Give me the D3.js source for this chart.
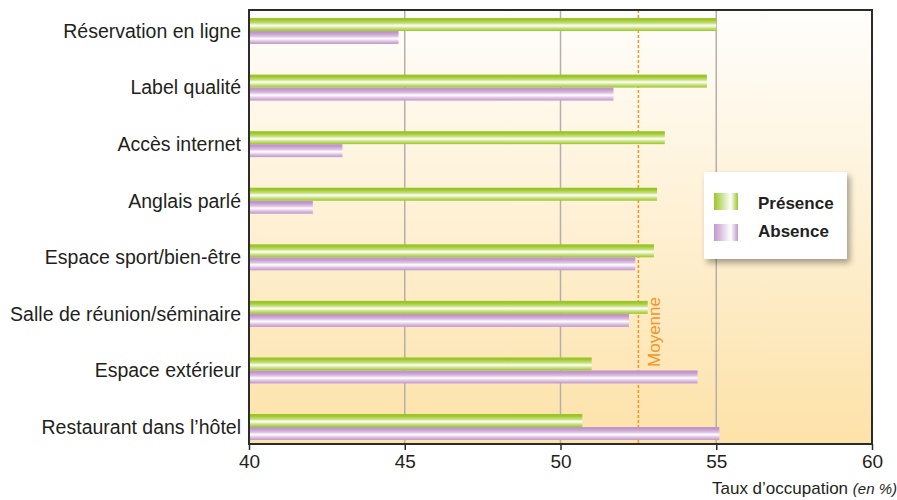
<!DOCTYPE html>
<html>
<head>
<meta charset="utf-8">
<script src="https://cdn.jsdelivr.net/npm/d3@7"></script>
<style>
  body { margin: 0; background: #fff; }
  text { font-family: "Liberation Sans", Arial, sans-serif; fill: #231f20; }
</style>
</head>
<body>
<div id="chart"></div>
<script>
var categories = [
	"Réservation en ligne",
	"Label qualité",
	"Accès internet",
	"Anglais parlé",
	"Espace sport/bien-être",
	"Salle de réunion/séminaire",
	"Espace extérieur",
	"Restaurant dans l\u2019hôtel"
];
var presence = [55.0, 54.7, 53.35, 53.1, 53.0, 52.8, 51.0, 50.7];
var absence = [44.8, 51.7, 43.0, 42.05, 52.4, 52.2, 54.4, 55.1];
var moyenne = 52.5;
var xTicks = [40, 45, 50, 55, 60];
var legendLabels = ["Présence", "Absence"];

var width = 897, height = 500;
var pLeft = 249, pRight = 872, pTop = 10, pBottom = 444;

var svg = d3.select("#chart")
	.append("svg")
	.attr("width", width)
	.attr("height", height);

var defs = svg.append("defs");

var bg = defs.append("linearGradient")
	.attr("id", "bg").attr("x1", 0).attr("y1", 0).attr("x2", 0).attr("y2", 1);
bg.append("stop").attr("offset", "0%").attr("stop-color", "#fffefc");
bg.append("stop").attr("offset", "100%").attr("stop-color", "#fde2a9");

function barGrad(id, dark, mid) {
	var g = defs.append("linearGradient")
		.attr("id", id).attr("x1", 0).attr("y1", 0).attr("x2", 0).attr("y2", 1);
	g.append("stop").attr("offset", "0%").attr("stop-color", dark);
	g.append("stop").attr("offset", "15%").attr("stop-color", dark);
	g.append("stop").attr("offset", "40%").attr("stop-color", mid);
	g.append("stop").attr("offset", "58%").attr("stop-color", "#ffffff");
	g.append("stop").attr("offset", "80%").attr("stop-color", mid);
	g.append("stop").attr("offset", "100%").attr("stop-color", dark);
}
barGrad("gGreen", "#9bc62a", "#c6e07a");
barGrad("gPurple", "#c197ca", "#dcc0e2");

function swatchGrad(id, dark) {
	var g = defs.append("linearGradient")
		.attr("id", id).attr("x1", 0).attr("y1", 0).attr("x2", 1).attr("y2", 0);
	g.append("stop").attr("offset", "0%").attr("stop-color", dark);
	g.append("stop").attr("offset", "70%").attr("stop-color", "#ffffff");
	g.append("stop").attr("offset", "100%").attr("stop-color", dark);
}
swatchGrad("sGreen", "#9bc62a");
swatchGrad("sPurple", "#c197ca");

var shadow = defs.append("filter").attr("id", "shadow")
	.attr("x", "-10%").attr("y", "-10%").attr("width", "130%").attr("height", "140%");
shadow.append("feDropShadow")
	.attr("dx", 3).attr("dy", 4).attr("stdDeviation", 3)
	.attr("flood-color", "#000").attr("flood-opacity", 0.35);

var x = d3.scaleLinear().domain([40, 60]).range([pLeft, pRight]);
var y = d3.scalePoint().domain(categories).range([31, 427]);
var barH = 13;

svg.append("rect")
	.attr("x", pLeft).attr("y", pTop)
	.attr("width", pRight - pLeft).attr("height", pBottom - pTop)
	.attr("fill", "url(#bg)");

// grid
svg.selectAll("line.grid")
	.data(xTicks.slice(1, -1))
	.enter().append("line")
	.attr("class", "grid")
	.attr("x1", function(d) { return x(d); })
	.attr("x2", function(d) { return x(d); })
	.attr("y1", pTop).attr("y2", pBottom)
	.style("stroke", "#b3b0ab")
	.style("stroke-width", 1.5);

// moyenne
svg.append("line")
	.attr("x1", x(moyenne)).attr("x2", x(moyenne))
	.attr("y1", pTop).attr("y2", pBottom)
	.style("stroke", "#f7931e")
	.style("stroke-width", 1.5)
	.style("stroke-dasharray", "3,2");

svg.append("text")
	.attr("transform", "translate(" + (x(moyenne) + 22) + ",332) rotate(-90)")
	.attr("text-anchor", "middle")
	.style("font-size", "17px")
	.style("fill", "#f7931e")
	.text("Moyenne");

// bars
svg.selectAll("rect.pres")
	.data(presence)
	.enter().append("rect")
	.attr("class", "pres")
	.attr("x", x(40))
	.attr("y", function(d, i) { return y(categories[i]) - barH; })
	.attr("width", function(d) { return x(d) - x(40); })
	.attr("height", barH)
	.attr("fill", "url(#gGreen)");

svg.selectAll("rect.abs")
	.data(absence)
	.enter().append("rect")
	.attr("class", "abs")
	.attr("x", x(40))
	.attr("y", function(d, i) { return y(categories[i]); })
	.attr("width", function(d) { return x(d) - x(40); })
	.attr("height", barH)
	.attr("fill", "url(#gPurple)");

// frame
svg.append("rect")
	.attr("x", pLeft).attr("y", pTop)
	.attr("width", pRight - pLeft).attr("height", pBottom - pTop)
	.attr("fill", "none")
	.style("stroke", "#2b2b2b")
	.style("stroke-width", 2);

// x axis
var xAxis = svg.append("g")
	.attr("transform", "translate(0," + pBottom + ")")
	.call(d3.axisBottom(x).tickValues(xTicks).tickSize(6).tickPadding(5));
xAxis.select(".domain").remove();
xAxis.selectAll("line").style("stroke", "#2b2b2b").style("stroke-width", 1.5);
xAxis.selectAll("text")
	.style("font-size", "19px")
	.style("font-family", "'Liberation Sans', Arial, sans-serif")
	.style("fill", "#231f20");

var title = svg.append("text")
	.attr("x", 897)
	.attr("y", 494)
	.attr("text-anchor", "end")
	.style("font-size", "17px");
title.append("tspan").text("Taux d\u2019occupation ");
title.append("tspan").style("font-style", "italic").style("font-size", "15px").text("(en %)");

// category labels
svg.selectAll("text.cat")
	.data(categories)
	.enter().append("text")
	.attr("class", "cat")
	.attr("x", 241)
	.attr("y", function(d) { return y(d); })
	.attr("dy", "0.35em")
	.attr("text-anchor", "end")
	.style("font-size", "19.5px")
	.text(function(d) { return d; });

// legend
var legend = svg.append("g").attr("transform", "translate(704,172)");
legend.append("rect")
	.attr("width", 143).attr("height", 87)
	.attr("fill", "#fff")
	.attr("filter", "url(#shadow)");

var swatches = ["url(#sGreen)", "url(#sPurple)"];
legend.selectAll("rect.sw")
	.data(legendLabels)
	.enter().append("rect")
	.attr("class", "sw")
	.attr("x", 10)
	.attr("y", function(d, i) { return 21 + i * 31; })
	.attr("width", 24).attr("height", 17)
	.attr("fill", function(d, i) { return swatches[i]; });

legend.selectAll("text.lg")
	.data(legendLabels)
	.enter().append("text")
	.attr("class", "lg")
	.attr("x", 54)
	.attr("y", function(d, i) { return 37 + i * 28; })
	.style("font-size", "17px")
	.style("font-weight", "bold")
	.text(function(d) { return d; });
</script>
</body>
</html>
